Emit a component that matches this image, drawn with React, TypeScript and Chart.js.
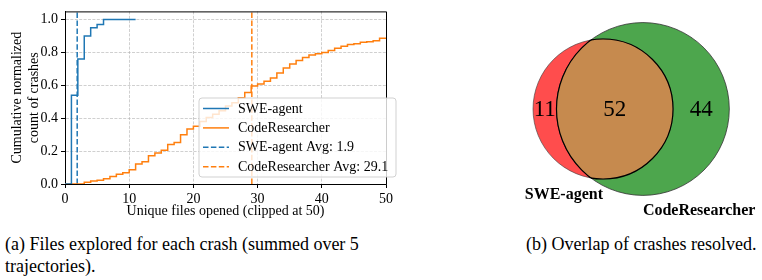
import React, { useEffect, useRef } from "react";
import { Chart, registerables } from "chart.js";

Chart.register(...registerables);

const FONT = "'Liberation Serif', 'Times New Roman', serif";

// ---------- Data: (a) files explored ----------
const seriesLabels = ["SWE-agent", "CodeResearcher"];
const sweFiles = [0, 1, 2, 3, 4, 5, 6, 11];
const sweCdf = [0, 0.54, 0.76, 0.9, 0.95, 0.97, 1.0, 1.0];
const crFiles = [
  0, 1, 2, 3, 4, 5, 6, 7, 8, 9, 10, 11, 12, 13, 14, 15, 16, 17, 18, 19, 20, 21, 22, 23, 24, 25,
  26, 27, 28, 29, 30, 31, 32, 33, 34, 35, 36, 37, 38, 39, 40, 41, 42, 43, 44, 45, 46, 47, 48, 49, 50,
];
const crCdf = [
  0, 0, 0, 0.01, 0.019, 0.023, 0.032, 0.045, 0.06, 0.069, 0.087, 0.122, 0.135, 0.172, 0.188, 0.206,
  0.24, 0.252, 0.3, 0.335, 0.352, 0.38, 0.405, 0.425, 0.445, 0.475, 0.495, 0.525, 0.556, 0.596,
  0.608, 0.625, 0.645, 0.675, 0.705, 0.73, 0.752, 0.77, 0.785, 0.792, 0.8, 0.812, 0.826, 0.838,
  0.848, 0.853, 0.862, 0.866, 0.872, 0.886, 0.89,
];
const sweAvg = 1.9;
const crAvg = 29.1;
const xTicks = [0, 10, 20, 30, 40, 50];
const yTicks = [0, 0.2, 0.4, 0.6, 0.8, 1.0];
const yMax = 1.05;

// ---------- Data: (b) Venn ----------
const vennSetLabels = ["SWE-agent", "CodeResearcher"];
const vennOnlySwe = 11;
const vennBoth = 52;
const vennOnlyCr = 44;

const BLUE = "#1f77b4";
const ORANGE = "#ff7f0e";
const RED = "rgb(255,77,77)";
const GREEN = "rgb(77,166,77)";
const LENS = "rgb(198,138,78)";

function lensArea(r1: number, r2: number, d: number) {
  if (d >= r1 + r2) return 0;
  if (d <= Math.abs(r1 - r2)) return Math.PI * Math.min(r1, r2) ** 2;
  const a1 = Math.acos((d * d + r1 * r1 - r2 * r2) / (2 * d * r1));
  const a2 = Math.acos((d * d + r2 * r2 - r1 * r1) / (2 * d * r2));
  const k = Math.sqrt((-d + r1 + r2) * (d + r1 - r2) * (d - r1 + r2) * (d + r1 + r2));
  return r1 * r1 * a1 + r2 * r2 * a2 - 0.5 * k;
}

function vennGeometry() {
  const n1 = vennOnlySwe + vennBoth;
  const n2 = vennOnlyCr + vennBoth;
  const r1 = Math.sqrt(n1 / Math.PI);
  const r2 = Math.sqrt(n2 / Math.PI);
  let lo = Math.abs(r1 - r2);
  let hi = r1 + r2;
  for (let i = 0; i < 80; i++) {
    const mid = (lo + hi) / 2;
    if (lensArea(r1, r2, mid) > vennBoth) lo = mid;
    else hi = mid;
  }
  const d = (lo + hi) / 2;
  return { r1, r2, d };
}

function CdfChart() {
  const ref = useRef<HTMLCanvasElement | null>(null);
  useEffect(() => {
    if (!ref.current) return;
    const boxAndLegend = {
      id: "boxAndLegend",
      afterDraw(chart: any) {
        const { ctx, chartArea } = chart;
        ctx.save();
        ctx.strokeStyle = "#000";
        ctx.lineWidth = 1;
        ctx.beginPath();
        ctx.moveTo(chartArea.left, chartArea.top + 0.5);
        ctx.lineTo(chartArea.right + 0.5, chartArea.top + 0.5);
        ctx.lineTo(chartArea.right + 0.5, chartArea.bottom);
        ctx.stroke();

        // legend
        const x1 = chartArea.right + 10;
        const y1 = chartArea.bottom - 7;
        const w = 197;
        const h = 79;
        const x0 = x1 - w;
        const y0 = y1 - h;
        const rad = 3;
        ctx.beginPath();
        ctx.moveTo(x0 + rad, y0);
        ctx.lineTo(x1 - rad, y0);
        ctx.quadraticCurveTo(x1, y0, x1, y0 + rad);
        ctx.lineTo(x1, y1 - rad);
        ctx.quadraticCurveTo(x1, y1, x1 - rad, y1);
        ctx.lineTo(x0 + rad, y1);
        ctx.quadraticCurveTo(x0, y1, x0, y1 - rad);
        ctx.lineTo(x0, y0 + rad);
        ctx.quadraticCurveTo(x0, y0, x0 + rad, y0);
        ctx.closePath();
        ctx.fillStyle = "rgba(255,255,255,0.8)";
        ctx.fill();
        ctx.strokeStyle = "rgba(204,204,204,0.9)";
        ctx.lineWidth = 1;
        ctx.stroke();

        ctx.font = `14px ${FONT}`;
        ctx.textBaseline = "middle";
        ctx.textAlign = "left";
        chart.data.datasets.forEach((ds: any, i: number) => {
          const y = y0 + 10.5 + i * 19.4;
          ctx.beginPath();
          ctx.setLineDash(ds.borderDash || []);
          ctx.strokeStyle = ds.borderColor;
          ctx.lineWidth = ds.borderWidth;
          ctx.moveTo(x0 + 4, y);
          ctx.lineTo(x0 + 30, y);
          ctx.stroke();
          ctx.setLineDash([]);
          ctx.fillStyle = "#000";
          ctx.fillText(ds.label, x0 + 39, y + 0.5);
        });
        ctx.restore();
      },
    };

    const tickFont = { family: FONT, size: 14 };
    const chart = new Chart(ref.current, {
      type: "line",
      data: {
        datasets: [
          {
            label: seriesLabels[0],
            data: sweFiles.map((x, i) => ({ x, y: sweCdf[i] })),
            borderColor: BLUE,
            borderWidth: 1.5,
            stepped: "before",
            pointRadius: 0,
            fill: false,
          },
          {
            label: seriesLabels[1],
            data: crFiles.map((x, i) => ({ x, y: crCdf[i] })),
            borderColor: ORANGE,
            borderWidth: 1.5,
            stepped: "before",
            pointRadius: 0,
            fill: false,
          },
          {
            label: `${seriesLabels[0]} Avg: ${sweAvg}`,
            data: [
              { x: sweAvg, y: 0 },
              { x: sweAvg, y: yMax },
            ],
            borderColor: BLUE,
            borderWidth: 1.5,
            borderDash: [5.5, 2.4],
            pointRadius: 0,
            fill: false,
          },
          {
            label: `${seriesLabels[1]} Avg: ${crAvg}`,
            data: [
              { x: crAvg, y: 0 },
              { x: crAvg, y: yMax },
            ],
            borderColor: ORANGE,
            borderWidth: 1.5,
            borderDash: [5.5, 2.4],
            pointRadius: 0,
            fill: false,
          },
        ],
      } as any,
      options: {
        animation: false,
        responsive: false,
        maintainAspectRatio: false,
        events: [],
        layout: { padding: { top: 7, right: 14, left: 0, bottom: 0 } },
        plugins: { legend: { display: false }, tooltip: { enabled: false } },
        scales: {
          x: {
            type: "linear",
            min: 0,
            max: 50,
            afterBuildTicks: (s: any) => {
              s.ticks = xTicks.map((v) => ({ value: v }));
            },
            afterFit: (s: any) => {
              s.height = 41;
            },
            ticks: {
              color: "#000",
              font: tickFont,
              padding: 3,
              maxRotation: 0,
              callback: (v: any) => String(v),
            },
            grid: {
              color: "rgba(176,176,176,0.75)",
              lineWidth: 0.8,
              tickLength: 4,
              tickColor: "#000",
              tickWidth: 1,
            },
            border: { color: "#000", width: 1, dash: [3, 1.4] },
            title: {
              display: true,
              text: "Unique files opened (clipped at 50)",
              color: "#000",
              font: tickFont,
              padding: { top: 0, bottom: 5.6 },
            },
          },
          y: {
            type: "linear",
            min: 0,
            max: yMax,
            afterBuildTicks: (s: any) => {
              s.ticks = yTicks.map((v) => ({ value: v }));
            },
            afterFit: (s: any) => {
              s.width = 65;
            },
            ticks: {
              color: "#000",
              font: tickFont,
              padding: 3,
              callback: (v: any) => Number(v).toFixed(1),
            },
            grid: {
              color: "rgba(176,176,176,0.75)",
              lineWidth: 0.8,
              tickLength: 4,
              tickColor: "#000",
              tickWidth: 1,
            },
            border: { color: "#000", width: 1, dash: [3, 1.4] },
            title: {
              display: true,
              text: ["Cumulative normalized", "count of crashes"],
              color: "#000",
              font: tickFont,
              padding: { top: 9, bottom: 0 },
            },
          },
        },
      } as any,
      plugins: [boxAndLegend],
    });
    return () => chart.destroy();
  }, []);
  return (
    <canvas
      ref={ref}
      width={400}
      height={225}
      style={{ position: "absolute", left: 0, top: 0, width: 400, height: 225 }}
    />
  );
}

function VennChart() {
  const ref = useRef<HTMLCanvasElement | null>(null);
  useEffect(() => {
    if (!ref.current) return;
    const { r1, r2, d } = vennGeometry();
    const sets = [
      { cx: d, r: r2, fill: GREEN, edge: "rgba(50,50,50,0.8)" },
      { cx: 0, r: r1, fill: RED, edge: "rgba(60,60,60,0.6)" },
    ];

    const geo = (chart: any) => {
      const sx = chart.scales.x;
      const sy = chart.scales.y;
      const cy = sy.getPixelForValue(0);
      return sets.map((s) => ({
        x: sx.getPixelForValue(s.cx),
        y: cy,
        r: sx.getPixelForValue(s.cx + s.r) - sx.getPixelForValue(s.cx),
        fill: s.fill,
        edge: s.edge,
      }));
    };

    const vennPlugin = {
      id: "vennCircles",
      beforeDatasetsDraw(chart: any) {
        const { ctx } = chart;
        const g = geo(chart);
        ctx.save();
        g.forEach((c) => {
          ctx.beginPath();
          ctx.arc(c.x, c.y, c.r, 0, Math.PI * 2);
          ctx.fillStyle = c.fill;
          ctx.fill();
        });
        g.forEach((c) => {
          ctx.beginPath();
          ctx.arc(c.x, c.y, c.r, 0, Math.PI * 2);
          ctx.strokeStyle = c.edge;
          ctx.lineWidth = 1;
          ctx.stroke();
        });
        ctx.restore();
      },
      afterDatasetsDraw(chart: any) {
        const { ctx } = chart;
        const sx = chart.scales.x;
        const sy = chart.scales.y;
        const [cG, cR] = geo(chart);
        ctx.save();
        // lens fill
        ctx.beginPath();
        ctx.arc(cR.x, cR.y, cR.r, 0, Math.PI * 2);
        ctx.clip();
        ctx.beginPath();
        ctx.arc(cG.x, cG.y, cG.r, 0, Math.PI * 2);
        ctx.fillStyle = LENS;
        ctx.fill();
        ctx.restore();
        // lens outline
        ctx.save();
        ctx.beginPath();
        ctx.arc(cG.x, cG.y, cG.r + 0.5, 0, Math.PI * 2);
        ctx.clip();
        ctx.beginPath();
        ctx.arc(cR.x, cR.y, cR.r, 0, Math.PI * 2);
        ctx.strokeStyle = "#000";
        ctx.lineWidth = 1.2;
        ctx.stroke();
        ctx.restore();
        ctx.save();
        ctx.beginPath();
        ctx.arc(cR.x, cR.y, cR.r + 0.5, 0, Math.PI * 2);
        ctx.clip();
        ctx.beginPath();
        ctx.arc(cG.x, cG.y, cG.r, 0, Math.PI * 2);
        ctx.strokeStyle = "#000";
        ctx.lineWidth = 1.2;
        ctx.stroke();
        ctx.restore();

        // region labels
        ctx.save();
        ctx.fillStyle = "#000";
        ctx.textAlign = "center";
        ctx.textBaseline = "middle";
        ctx.font = `23px ${FONT}`;
        const leftOnly = (-r1 + (d - r2)) / 2;
        const both = (d - r2 + r1) / 2;
        const rightOnly = (r1 + d + r2) / 2;
        const cy = sy.getPixelForValue(0) + 1;
        ctx.fillText(String(vennOnlySwe), sx.getPixelForValue(leftOnly), cy);
        ctx.fillText(String(vennBoth), sx.getPixelForValue(both), cy);
        ctx.fillText(String(vennOnlyCr), sx.getPixelForValue(rightOnly), cy);

        // set labels
        const pad = (0.1 * (r1 + r2)) / 2;
        ctx.font = `bold 16px ${FONT}`;
        ctx.textBaseline = "top";
        ctx.textAlign = "right";
        ctx.fillText(vennSetLabels[0], cR.x, sy.getPixelForValue(-r1 - pad));
        ctx.textAlign = "left";
        ctx.fillText(vennSetLabels[1], cG.x, sy.getPixelForValue(-r2 - pad));
        ctx.restore();
      },
    };

    const chart = new Chart(ref.current, {
      type: "scatter",
      data: {
        datasets: [
          {
            label: vennSetLabels[1],
            data: [{ x: d, y: 0 }],
            pointRadius: 0,
            backgroundColor: GREEN,
          },
          {
            label: vennSetLabels[0],
            data: [{ x: 0, y: 0 }],
            pointRadius: 0,
            backgroundColor: RED,
          },
        ],
      } as any,
      options: {
        animation: false,
        responsive: false,
        maintainAspectRatio: false,
        events: [],
        layout: { padding: 0, autoPadding: false },
        plugins: { legend: { display: false }, tooltip: { enabled: false } },
        scales: {
          x: { type: "linear", min: -7.87, max: 10.17, display: false },
          y: { type: "linear", min: -7.42, max: 6.97, display: false },
        },
      } as any,
      plugins: [vennPlugin],
    });
    return () => chart.destroy();
  }, []);
  return (
    <canvas
      ref={ref}
      width={282}
      height={225}
      style={{ position: "absolute", left: 480, top: 0, width: 282, height: 225 }}
    />
  );
}

export default function App() {
  const cap: React.CSSProperties = {
    position: "absolute",
    fontFamily: FONT,
    fontSize: 18,
    lineHeight: "22px",
    color: "#000",
    whiteSpace: "nowrap",
  };
  return (
    <div
      style={{
        position: "fixed",
        left: 0,
        top: 0,
        width: 762,
        height: 280,
        background: "#fff",
        overflow: "hidden",
      }}
    >
      <CdfChart />
      <VennChart />
      <div style={{ ...cap, left: 5, top: 233 }}>
        (a) Files explored for each crash (summed over 5
        <br />
        trajectories).
      </div>
      <div style={{ ...cap, left: 526, top: 233 }}>(b) Overlap of crashes resolved.</div>
    </div>
  );
}
